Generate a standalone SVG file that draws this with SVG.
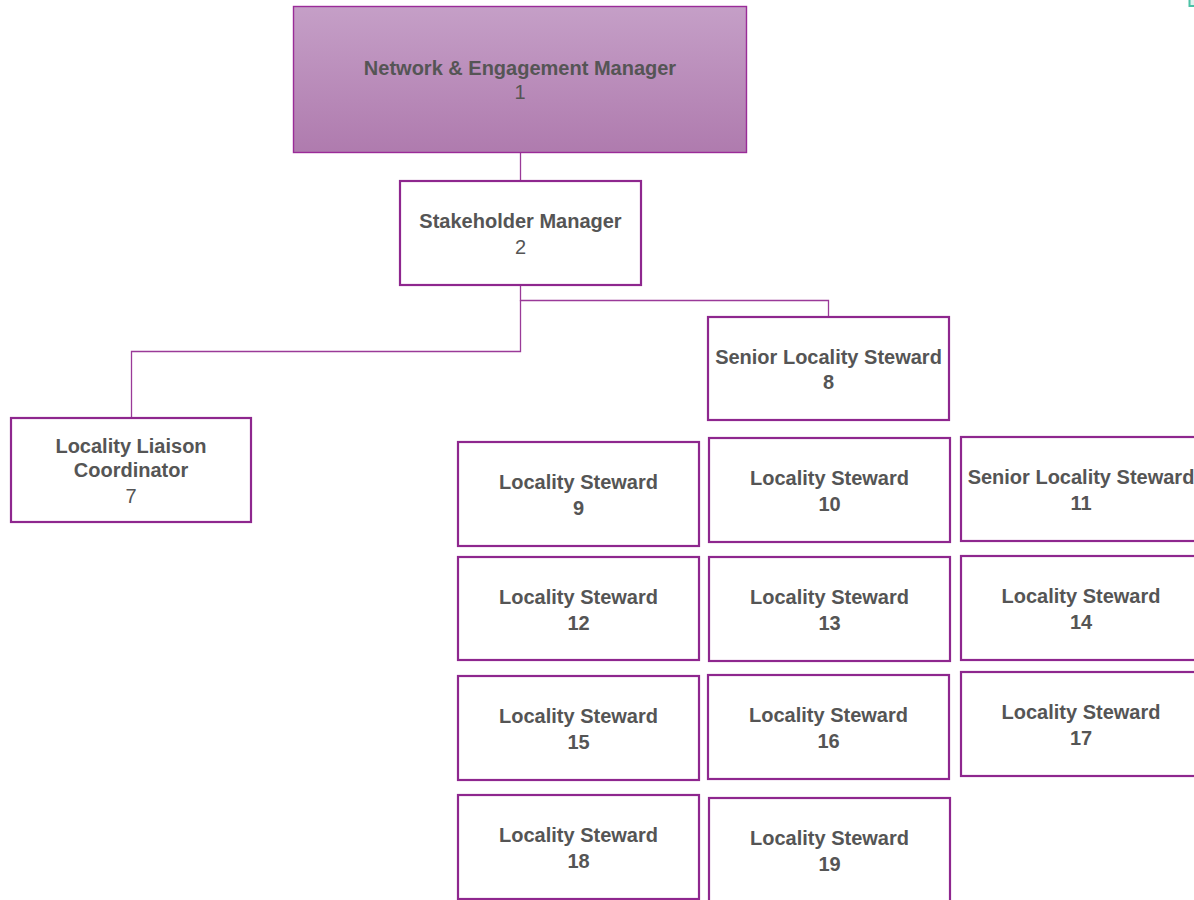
<svg xmlns="http://www.w3.org/2000/svg" width="1194" height="900" viewBox="0 0 1194 900">
  <defs>
    <linearGradient id="topFill" x1="0" y1="0" x2="0" y2="1">
      <stop offset="0" stop-color="#c59fc7"/>
      <stop offset="1" stop-color="#af7bae"/>
    </linearGradient>
  </defs>
  <style>
    .box { fill: #ffffff; stroke: #8e278e; stroke-width: 2.2; }
    .top { fill: url(#topFill); stroke: #9a2b98; stroke-width: 1.4; }
    .link { fill: none; stroke: #9a3a98; stroke-width: 1.3; }
    text { font-family: "Liberation Sans", Arial, sans-serif; font-size: 20px; fill: #555555; text-anchor: middle; }
    .b { font-weight: bold; }
  </style>
  <rect width="1194" height="900" fill="#ffffff"/>

  <!-- reporting lines -->
  <g id="connectors">
    <path class="link" d="M520.5 152 V181"/>
    <path class="link" d="M520.5 285 V300.5 H828.5 V317"/>
    <path class="link" d="M520.5 300 V351.5 H131.5 V418"/>
  </g>

  <!-- partially visible node at the top-right edge -->
  <g id="edge-node">
    <rect x="1189.5" y="-30" width="30" height="36" fill="#dff3ee" stroke="#4cc2a6" stroke-width="2"/>
  </g>

  <g id="n1">
    <rect class="top" x="293.5" y="6.5" width="453" height="146"/>
    <text class="b" x="520" y="75">Network &amp; Engagement Manager</text>
    <text x="520" y="99">1</text>
  </g>

  <g id="n2">
    <rect class="box" x="400" y="181" width="241" height="104"/>
    <text class="b" x="520.5" y="228">Stakeholder Manager</text>
    <text x="520.5" y="254">2</text>
  </g>

  <g id="n7">
    <rect class="box" x="11" y="418" width="240" height="104"/>
    <text class="b" x="131" y="453">Locality Liaison</text>
    <text class="b" x="131" y="477">Coordinator</text>
    <text x="131" y="503">7</text>
  </g>

  <g id="n8">
    <rect class="box" x="708" y="317" width="241" height="103"/>
    <text class="b" x="828.5" y="364">Senior Locality Steward</text>
    <text class="b" x="828.5" y="389">8</text>
  </g>

  <g id="n9">
    <rect class="box" x="458" y="442" width="241" height="104"/>
    <text class="b" x="578.5" y="489">Locality Steward</text>
    <text class="b" x="578.5" y="515">9</text>
  </g>

  <g id="n10">
    <rect class="box" x="709" y="438" width="241" height="104"/>
    <text class="b" x="829.5" y="485">Locality Steward</text>
    <text class="b" x="829.5" y="511">10</text>
  </g>

  <g id="n11">
    <rect class="box" x="961" y="437" width="241" height="104"/>
    <text class="b" x="1081" y="484">Senior Locality Steward</text>
    <text class="b" x="1081" y="510">11</text>
  </g>

  <g id="n12">
    <rect class="box" x="458" y="557" width="241" height="103"/>
    <text class="b" x="578.5" y="604">Locality Steward</text>
    <text class="b" x="578.5" y="630">12</text>
  </g>

  <g id="n13">
    <rect class="box" x="709" y="557" width="241" height="104"/>
    <text class="b" x="829.5" y="604">Locality Steward</text>
    <text class="b" x="829.5" y="630">13</text>
  </g>

  <g id="n14">
    <rect class="box" x="961" y="556" width="241" height="104"/>
    <text class="b" x="1081" y="603">Locality Steward</text>
    <text class="b" x="1081" y="629">14</text>
  </g>

  <g id="n15">
    <rect class="box" x="458" y="676" width="241" height="104"/>
    <text class="b" x="578.5" y="723">Locality Steward</text>
    <text class="b" x="578.5" y="749">15</text>
  </g>

  <g id="n16">
    <rect class="box" x="708" y="675" width="241" height="104"/>
    <text class="b" x="828.5" y="722">Locality Steward</text>
    <text class="b" x="828.5" y="748">16</text>
  </g>

  <g id="n17">
    <rect class="box" x="961" y="672" width="241" height="104"/>
    <text class="b" x="1081" y="719">Locality Steward</text>
    <text class="b" x="1081" y="745">17</text>
  </g>

  <g id="n18">
    <rect class="box" x="458" y="795" width="241" height="104"/>
    <text class="b" x="578.5" y="842">Locality Steward</text>
    <text class="b" x="578.5" y="868">18</text>
  </g>

  <g id="n19">
    <rect class="box" x="709" y="798" width="241" height="104"/>
    <text class="b" x="829.5" y="845">Locality Steward</text>
    <text class="b" x="829.5" y="871">19</text>
  </g>
</svg>
